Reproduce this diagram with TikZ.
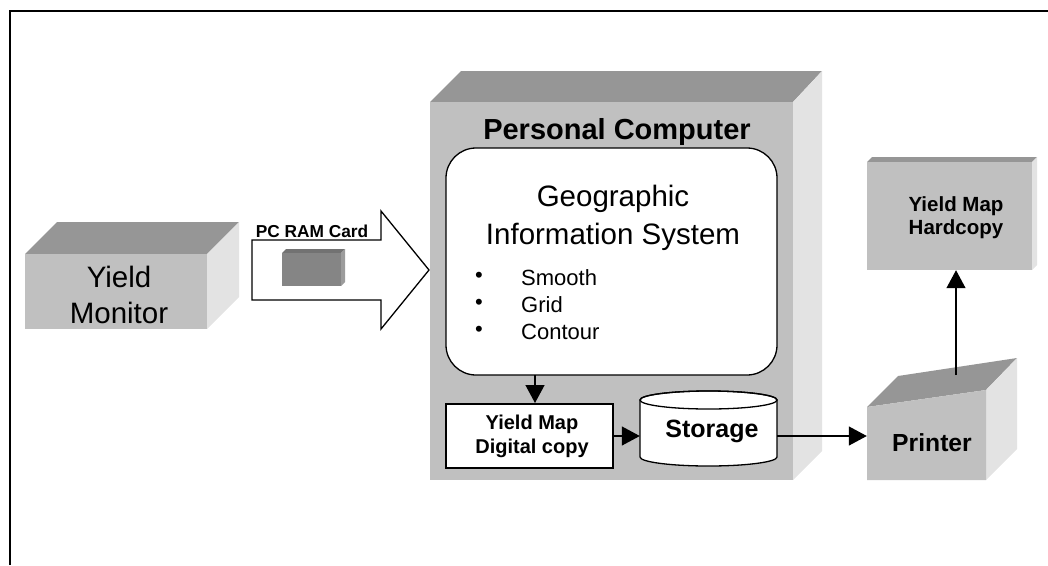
\documentclass[tikz,border=0pt]{standalone}
\usepackage{fontspec}
\setmainfont{Liberation Sans}
\usetikzlibrary{arrows.meta}
\definecolor{frontgray}{HTML}{C0C0C0}
\definecolor{topgray}{HTML}{969696}
\definecolor{sidegray}{HTML}{E3E3E3}
\definecolor{cardfront}{HTML}{858585}
\definecolor{cardtop}{HTML}{727272}
\definecolor{cardside}{HTML}{9C9C9C}
\tikzset{
  front/.style={fill=frontgray},
  topface/.style={fill=topgray},
  sideface/.style={fill=sidegray},
  lbl/.style={inner sep=0pt, align=center},
  fhuge/.style={font=\fontsize{29.5}{36}\selectfont},
  ftitle/.style={font=\bfseries\fontsize{29}{32}\selectfont},
  fgis/.style={font=\fontsize{29.5}{38}\selectfont},
  fbullet/.style={font=\fontsize{22}{27}\selectfont},
  fsmallbold/.style={font=\bfseries\fontsize{20}{24}\selectfont},
  fhardbold/.style={font=\bfseries\fontsize{20.5}{23}\selectfont},
  fmidbold/.style={font=\bfseries\fontsize{25}{28}\selectfont},
  fprint/.style={font=\bfseries\fontsize{24.7}{28}\selectfont},
  fcard/.style={font=\bfseries\fontsize{17.3}{18}\selectfont},
  conn/.style={line width=1.3pt, -{Triangle[length=18pt,width=19pt]}},
  ghost/.style={inner sep=0pt, draw=none}
}
\begin{document}
\begin{tikzpicture}[x=1pt,y=-1pt]
\useasboundingbox (0,0) rectangle (1048,565);
% frame
\draw[line width=2pt] (10,565) -- (10,11) -- (1048,11);

% Yield Monitor box
\fill[topface] (25,254) -- (57,222) -- (239,222) -- (207,254) -- cycle;
\fill[sideface] (207,254) -- (239,222) -- (239,297) -- (207,329) -- cycle;
\fill[front] (25,254) rectangle (207,329);
\node[ghost, minimum width=182pt, minimum height=75pt] (monitor) at (116,291.5) {};
\node[lbl, fhuge] (monitortext) at (119,295) {Yield\\Monitor};

% PC RAM Card arrow
\draw[line width=1.3pt, fill=white, line join=miter]
  (252,240) -- (381,240) -- (381,211) -- (429,270) -- (381,329) -- (381,300) -- (252,300) -- cycle;
\node[ghost, minimum width=177pt, minimum height=60pt] (ramarrow) at (340.5,270) {};
\node[lbl, fcard] (ramlabel) at (312,231) {PC RAM Card};
% card
\fill[fill=cardtop] (282,253) -- (286,249) -- (345,249) -- (341,253) -- cycle;
\fill[fill=cardside] (341,253) -- (345,249) -- (345,282) -- (341,286) -- cycle;
\fill[fill=cardfront] (282,253) rectangle (341,286);
\node[ghost, minimum width=59pt, minimum height=33pt] (card) at (311.5,269.5) {};

% Personal Computer box
\fill[topface] (430,102) -- (461,71) -- (822,71) -- (793,102) -- cycle;
\fill[sideface] (793,102) -- (822,71) -- (822,451) -- (793,480) -- cycle;
\fill[front] (430,102) rectangle (793,480);
\node[ghost, minimum width=363pt, minimum height=378pt] (pc) at (611.5,291) {};
\node[lbl, ftitle] (pctitle) at (617,132) {Personal Computer};

% GIS rounded box
\node[draw, line width=1.3pt, fill=white, rounded corners=30pt,
      minimum width=331pt, minimum height=227pt, inner sep=0pt] (gis) at (611.5,261.5) {};
\node[lbl, fgis] (gistext) at (613,218) {Geographic\\Information System};
\node[lbl, fbullet, anchor=center] (b1) at (479,277.5) {•};
\node[lbl, fbullet, anchor=center] (b2) at (479,304.5) {•};
\node[lbl, fbullet, anchor=center] (b3) at (479,331.5) {•};
\node[lbl, fbullet, anchor=west] (t1) at (521,277.5) {Smooth};
\node[lbl, fbullet, anchor=west] (t2) at (521,304.5) {Grid};
\node[lbl, fbullet, anchor=west] (t3) at (521,331.5) {Contour};

% Yield Map Digital copy
\node[draw, line width=2pt, fill=white, minimum width=167pt, minimum height=64pt,
      inner sep=0pt] (dig) at (529.5,436) {};
\node[lbl, fsmallbold] (digtext) at (532,436) {Yield Map\\Digital copy};

% Storage cylinder
\filldraw[line width=1.3pt, fill=white] (640,400) -- (640,457)
  arc[start angle=180, end angle=360, x radius=68.5pt, y radius=9pt] -- (777,400)
  arc[start angle=0, end angle=180, x radius=68.5pt, y radius=9pt] -- cycle;
\draw[line width=1.3pt] (708.5,400) ellipse[x radius=68.5pt, y radius=9pt];
\node[ghost, minimum width=137pt, minimum height=75pt] (storage) at (708.5,428.5) {};
\node[lbl, fmidbold] (storagetext) at (712,431) {Storage};

% Printer
\fill[topface] (867,407) -- (898,376) -- (1017,358) -- (986,390) -- cycle;
\fill[sideface] (986,390) -- (1017,358) -- (1017,449) -- (986,480) -- cycle;
\fill[front] (867,407) -- (986,390) -- (986,480) -- (867,480) -- cycle;
\node[ghost, minimum width=119pt, minimum height=90pt] (printer) at (926.5,435) {};
\node[lbl, fprint] (printertext) at (932,443) {Printer};
\coordinate (prtop) at (956,375);

% Yield Map Hardcopy
\fill[topface] (867,162) -- (872,157) -- (1037,157) -- (1032,162) -- cycle;
\fill[sideface] (1032,162) -- (1037,157) -- (1037,265) -- (1032,270) -- cycle;
\fill[front] (867,162) rectangle (1032,270);
\node[ghost, minimum width=165pt, minimum height=108pt] (hard) at (949.5,216) {};
\node[lbl, fhardbold] (hardtext) at (956,218) {Yield Map\\Hardcopy};

% connectors
\coordinate (gisout) at (535,375);
\draw[conn] (gisout) -- (gisout |- dig.north);
\draw[conn] (dig.east) -- (storage.west |- dig.east);
\draw[conn] (storage.east |- dig.east) -- (printer.west |- dig.east);
\draw[conn] (prtop) -- (prtop |- hard.south);
\end{tikzpicture}
\end{document}
